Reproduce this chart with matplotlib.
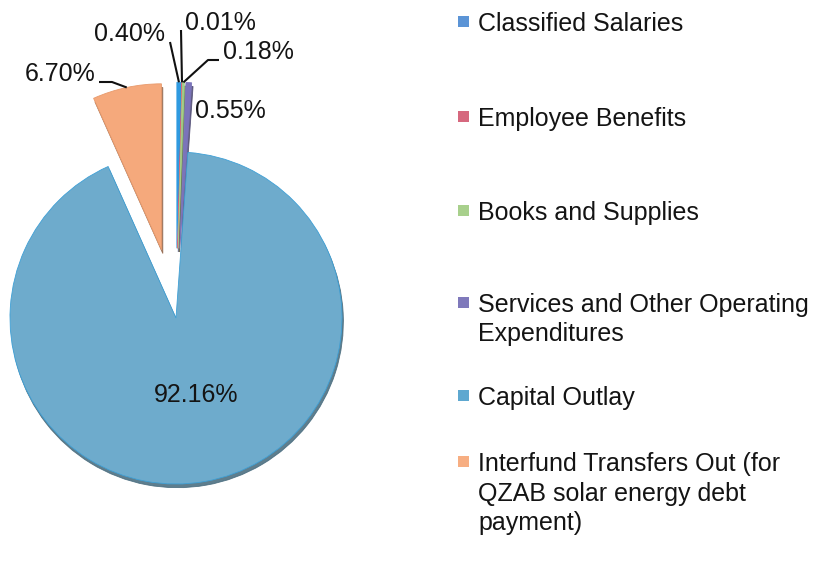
import matplotlib
matplotlib.use("Agg")
import matplotlib.pyplot as plt
from matplotlib.patches import Rectangle
import numpy as np

# data
categories = [
    "Classified Salaries",
    "Employee Benefits",
    "Books and Supplies",
    "Services and Other Operating\nExpenditures",
    "Capital Outlay",
    "Interfund Transfers Out (for\nQZAB solar energy debt\npayment)",
]
shares = [0.40, 0.01, 0.18, 0.55, 92.16, 6.70]
pct_labels = ["0.40%", "0.01%", "0.18%", "0.55%", "92.16%", "6.70%"]
slice_colors = ["#2f9ae0", "#d8607a", "#a4cf86", "#7b74ba", "#6eabcc", "#f5a97c"]
legend_colors = ["#5b94d6", "#d6687e", "#a8d08c", "#7f79bb", "#5ea8d0", "#f7ae82"]

W, H = 817, 563
CX, CY, R = 176, 318, 166  # pie centre / radius in pixels


def px(x, y):
    """pixel position (from top-left) -> data coords of the pie axes"""
    return ((x - CX) / R, (CY - y) / R)


plt.rcParams["font.family"] = ["Liberation Sans", "DejaVu Sans"]
FS = 18

fig = plt.figure(figsize=(W / 100, H / 100), dpi=100)
ax = fig.add_axes([0, 0, 1, 1])

explode = [0.42, 0.42, 0.42, 0.42, 0.0, 0.42]
wedges, _ = ax.pie(
    shares,
    colors=slice_colors,
    explode=explode,
    startangle=90,
    counterclock=False,
    radius=1,
    center=(0, 0),
    shadow=dict(ox=0.006, oy=-0.016, shade=0.4, alpha=0.85),
    wedgeprops=dict(linewidth=0.6),
    frame=True,
)
ax.set_xlim(-CX / R, (W - CX) / R)
ax.set_ylim(-(H - CY) / R, CY / R)
ax.axis("off")
wedges[4].set_edgecolor("#3fa0d6")
wedges[5].set_edgecolor("#e89a6c")
for w in wedges[:4]:
    w.set_edgecolor(w.get_facecolor())


def rim_point(w):
    mid = np.deg2rad((w.theta1 + w.theta2) / 2)
    cx, cy = w.center
    return cx + w.r * np.cos(mid), cy + w.r * np.sin(mid)


# leader lines: label position, elbow points (pixels)
label_pos = {0: (129, 34), 1: (220, 23), 2: (258, 52), 3: (230, 111), 4: (196, 395), 5: (60, 74)}
leaders = {0: [(170, 42)], 1: [(181, 30)], 2: [(219, 60), (208, 60)], 5: [(99, 82), (112, 82)]}

for i, lab in enumerate(pct_labels):
    tx, ty = px(*label_pos[i])
    ax.text(tx, ty, lab, fontsize=FS, ha="center", va="center", color="#141414")
    if i in leaders:
        pts = [px(*p) for p in leaders[i]] + [rim_point(wedges[i])]
        xs, ys = zip(*pts)
        ax.plot(xs, ys, color="#111111", lw=1.5, solid_capstyle="butt")

# legend, drawn by hand to keep the uneven spacing
baselines = [31, 126, 220, 312, 405, 471]
for lab, col, base in zip(categories, legend_colors, baselines):
    fig.patches.append(Rectangle((458 / W, 1 - (base - 4) / H), 11 / W, 11 / H,
                                 transform=fig.transFigure, facecolor=col,
                                 edgecolor="none"))
    for k, line in enumerate(lab.split("\n")):
        yb = base + k * 29.5
        fig.text(478 / W, 1 - yb / H, line, fontsize=FS, ha="left",
                 va="baseline", color="#141414")

fig.savefig("out.png", dpi=100)
